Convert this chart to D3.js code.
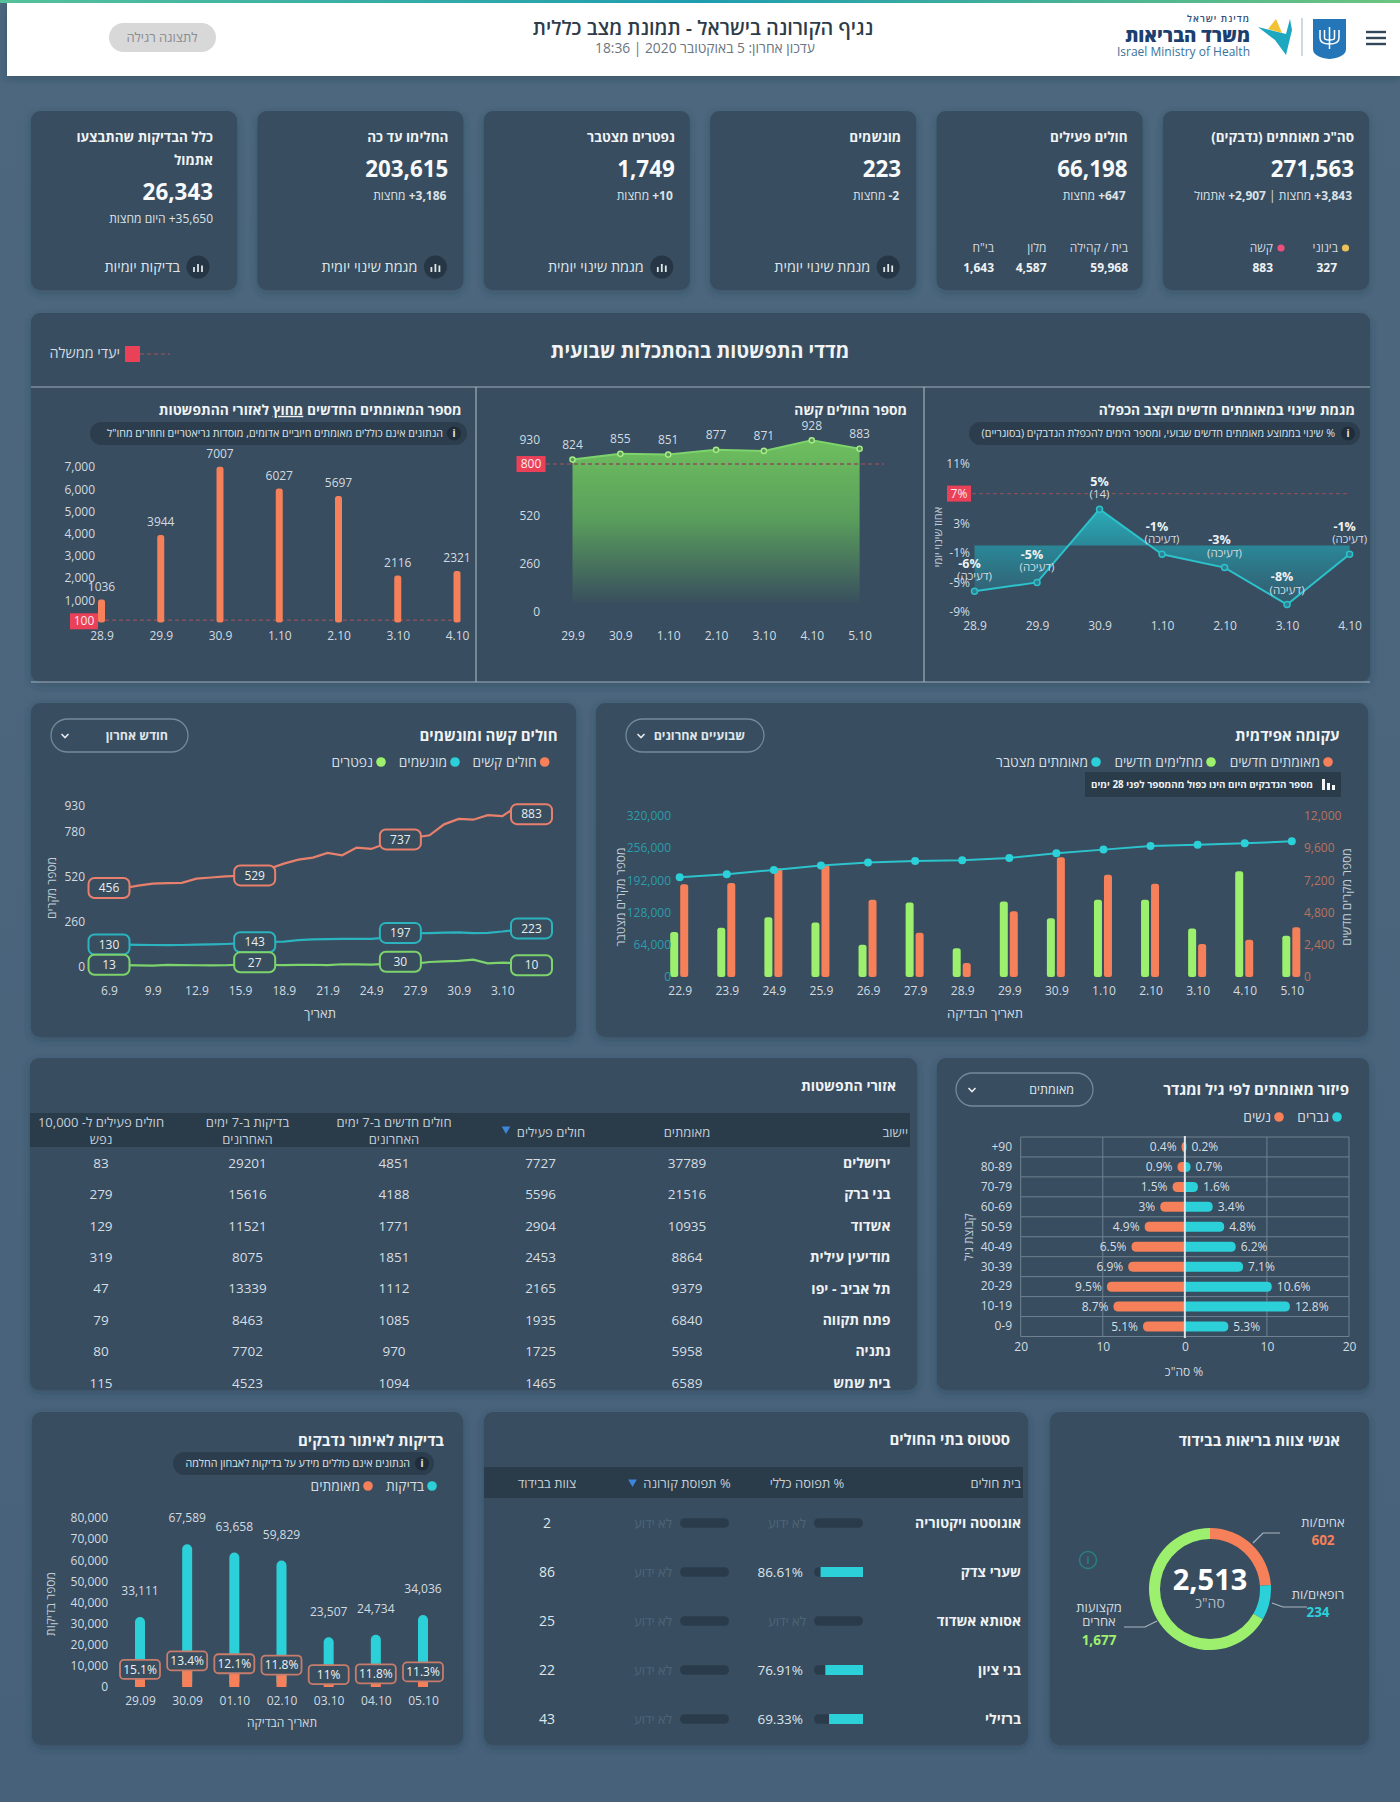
<!DOCTYPE html>
<html lang="he">
<head>
<meta charset="utf-8">
<title>נגיף הקורונה בישראל</title>
<script src="https://cdn.jsdelivr.net/npm/d3@7"></script>
<style>
  html, body { margin: 0; padding: 0; background: #4a647a; }
  svg { display: block; }
  text { font-family: "Open Sans", "Liberation Sans", "DejaVu Sans", sans-serif; }
  .axis path, .axis line { display: none; }
</style>
</head>
<body>
<div id="chart"></div>
<script>
// DATA
var kpiTitles = ['סה"כ מאומתים (נדבקים)', "חולים פעילים", "מונשמים", "נפטרים מצטבר", "החלימו עד כה", "כלל הבדיקות שהתבצעו"];
var kpiValues = ["271,563", "66,198", "223", "1,749", "203,615", "26,343"];
var kpiDeltas = ["\u200E+3,843\u200E מחצות | \u200E+2,907\u200E אתמול", "\u200E+647\u200E מחצות", "\u200E-2\u200E מחצות", "\u200E+10\u200E מחצות", "\u200E+3,186\u200E מחצות", "\u200E+35,650\u200E היום מחצות"];
var kpiLinks = [null, null, "מגמת שינוי יומית", "מגמת שינוי יומית", "מגמת שינוי יומית", "בדיקות יומיות"];
var activeLabels = ["בית / קהילה", "מלון", 'בי"ח'];
var activeValues = ["59,968", "4,587", "1,643"];

var weekDays = ["28.9", "29.9", "30.9", "1.10", "2.10", "3.10", "4.10"];
var changePct = [-6.2, -5, 4.9, -1.2, -3, -8, -1.2];
var changeLabels = ["-6%", "-5%", "5%", "-1%", "-3%", "-8%", "-1%"];
var changeNotes = ["(דעיכה)", "(דעיכה)", "(14)", "(דעיכה)", "(דעיכה)", "(דעיכה)", "(דעיכה)"];
var changeTicks = [-9, -5, -1, 3, 11];

var severeDays = ["29.9", "30.9", "1.10", "2.10", "3.10", "4.10", "5.10"];
var severeWeek = [824, 855, 851, 877, 871, 928, 883];
var severeTicks = [0, 260, 520, 930];

var outsideCases = [1036, 3944, 7007, 6027, 5697, 2116, 2321];
var outsideTicks = [1000, 2000, 3000, 4000, 5000, 6000, 7000];

var epiDays = ["22.9", "23.9", "24.9", "25.9", "26.9", "27.9", "28.9", "29.9", "30.9", "1.10", "2.10", "3.10", "4.10", "5.10"];
var epiNew = [6900, 7000, 8090, 8340, 5740, 3290, 1036, 4900, 8900, 7600, 6930, 2450, 2770, 3710];
var epiRecovered = [3340, 3660, 4450, 4060, 2400, 5540, 2130, 5620, 4380, 5740, 5740, 3610, 7870, 3070];
var epiCumulative = [197900, 203900, 212500, 221000, 227000, 230300, 231600, 236200, 245400, 252700, 260000, 262600, 265200, 269200];
var epiLeftTicks = [0, 64000, 128000, 192000, 256000, 320000];
var epiRightTicks = [0, 2400, 4800, 7200, 9600, 12000];

var monthDays = ["6.9", "7.9", "8.9", "9.9", "10.9", "11.9", "12.9", "13.9", "14.9", "15.9", "16.9", "17.9", "18.9", "19.9", "20.9", "21.9", "22.9", "23.9", "24.9", "25.9", "26.9", "27.9", "28.9", "29.9", "30.9", "1.10", "2.10", "3.10", "4.10", "5.10"];
var monthTickDays = ["6.9", "9.9", "12.9", "15.9", "18.9", "21.9", "24.9", "27.9", "30.9", "3.10"];
var monthSevere = [456, 455, 470, 482, 484, 486, 510, 517, 523, 527, 529, 568, 597, 620, 632, 659, 645, 690, 682, 713, 737, 748, 761, 824, 855, 851, 877, 871, 928, 883];
var monthVent = [130, 129, 128, 127, 126, 127, 129, 131, 133, 136, 143, 145, 147, 155, 160, 161, 162, 163, 163, 170, 197, 195, 196, 198, 200, 196, 197, 205, 215, 223];
var monthDead = [13, 11, 9, 8, 12, 11, 10, 9, 10, 14, 27, 12, 11, 12, 13, 11, 16, 15, 14, 18, 30, 19, 29, 33, 35, 42, 21, 25, 22, 10];
var monthTicks = [0, 260, 520, 780, 930];
var monthMarked = ["6.9", "16.9", "26.9", "5.10"];

var ageGroups = ["+90", "80-89", "70-79", "60-69", "50-59", "40-49", "30-39", "20-29", "10-19", "0-9"];
var agesWomen = [0.4, 0.9, 1.5, 3, 4.9, 6.5, 6.9, 9.5, 8.7, 5.1];
var agesMen = [0.2, 0.7, 1.6, 3.4, 4.8, 6.2, 7.1, 10.6, 12.8, 5.3];

var tableHeads = [["יישוב"], ["מאומתים"], ["חולים פעילים"], ["חולים חדשים ב-7 ימים", "האחרונים"], ["בדיקות ב-7 ימים", "האחרונים"], ["חולים פעילים ל- 10,000", "נפש"]];
var cities = ["ירושלים", "בני ברק", "אשדוד", "מודיעין עילית", "תל אביב - יפו", "פתח תקווה", "נתניה", "בית שמש"];
var cityConfirmed = [37789, 21516, 10935, 8864, 9379, 6840, 5958, 6589];
var cityActive = [7727, 5596, 2904, 2453, 2165, 1935, 1725, 1465];
var cityNew7 = [4851, 4188, 1771, 1851, 1112, 1085, 970, 1094];
var cityTests7 = [29201, 15616, 11521, 8075, 13339, 8463, 7702, 4523];
var cityPer10k = [83, 279, 129, 319, 47, 79, 80, 115];

var testDays = ["29.09", "30.09", "01.10", "02.10", "03.10", "04.10", "05.10"];
var testCounts = [33111, 67589, 63658, 59829, 23507, 24734, 34036];
var testPositive = [5000, 9057, 7702, 7060, 2586, 2919, 3846];
var testRates = ["15.1%", "13.4%", "12.1%", "11.8%", "11%", "11.8%", "11.3%"];
var testTicks = [0, 10000, 20000, 30000, 40000, 50000, 60000, 70000, 80000];

var hospitals = ["אוגוסטה ויקטוריה", "שערי צדק", "אסותא אשדוד", "בני ציון", "ברזילי"];
var hospOccupancy = [null, 86.61, null, 76.91, 69.33];
var hospCorona = [null, null, null, null, null];
var hospStaff = [2, 86, 25, 22, 43];
var hospHeads = ["בית חולים", "% תפוסה כללי", "% תפוסת קורונה", "צוות בבידוד"];

var staffGroups = ["אחים/ות", "רופאים/ות", "מקצועות אחרים"];
var staffCounts = [602, 234, 1677];

// STYLE
var panel = "#384d5e", dark = "#2a3b4a", soft = "#d3dbe1";
var orange = "#f58059", teal = "#2bd0d8", green = "#9cf06e", lineGreen = "#7dd36c", red = "#ea4159", dash = "#85505c";

var svg = d3.select("#chart").append("svg").attr("width", 1400).attr("height", 1802);
var defs = svg.append("defs");

var shadow = defs.append("filter").attr("id", "shadow").attr("x", "-5%").attr("y", "-5%").attr("width", "110%").attr("height", "115%");
shadow.append("feDropShadow").attr("dx", 0).attr("dy", 3).attr("stdDeviation", 4).attr("flood-color", "#22323f").attr("flood-opacity", 0.35);

function gradient(id, stops, vertical, extra) {
  var g = defs.append("linearGradient").attr("id", id).attr("x1", 0).attr("y1", 0)
    .attr("x2", vertical ? 0 : 1).attr("y2", vertical ? 1 : 0);
  if (extra) g.attr("gradientUnits", "userSpaceOnUse").attr("y1", extra[0]).attr("y2", extra[1]);
  stops.forEach(function(s) {
    g.append("stop").attr("offset", s[0]).attr("stop-color", s[1]);
  });
}
gradient("topStrip", [[0, "#55c19a"], [0.5, "#1f9db0"], [1, "#6cc57f"]], false);
gradient("pageBg", [[0, "#4d687e"], [1, "#47617a"]], true);
gradient("severeFill", [[0, "#6dbd5e"], [0.45, "#5a9f5c"], [1, "#384d5e"]], true, [445, 605]);
gradient("changeFill", [[0, "#2bb0bb"], [0.42, "#2a8595"], [1, "#35566a"]], true, [505, 608]);

// helper for every piece of text: x,y is the point, y the vertical centre
function label(g, x, y, str, o) {
  o = o || {};
  var rtl = !o.ltr;
  var a = o.a || "r";
  var anchor = a === "m" ? "middle" : ((a === "r") === rtl ? "start" : "end");
  return g.append("text")
    .attr("x", x).attr("y", y).attr("dy", "0.35em")
    .attr("direction", rtl ? "rtl" : "ltr")
    .attr("text-anchor", anchor)
    .attr("font-size", o.size || 12)
    .attr("font-weight", o.bold ? (o.bold === true ? 700 : o.bold) : 400)
    .attr("fill", o.fill || soft)
    .text(str);
}
function sideLabel(g, x, y, str, o) {
  o = o || {};
  return g.append("text").attr("transform", "translate(" + x + "," + y + ") rotate(-90)")
    .attr("text-anchor", "middle").attr("dy", "0.35em")
    .attr("font-size", o.size || 12).attr("fill", o.fill || "#c3ced6").text(str);
}
function card(x, y, w, h) {
  return svg.append("rect").attr("x", x).attr("y", y).attr("width", w).attr("height", h)
    .attr("rx", 9).attr("fill", panel).attr("filter", "url(#shadow)");
}
function chevron(g, x, y) {
  g.append("path").attr("d", "M" + (x - 3.5) + "," + (y - 1.5) + " L" + x + "," + (y + 2) + " L" + (x + 3.5) + "," + (y - 1.5))
    .attr("fill", "none").attr("stroke", "#e6ebef").attr("stroke-width", 1.6);
}
function dropdown(g, x0, x1, y0, y1, str, textRight, chevX, bold) {
  g.append("rect").attr("x", x0).attr("y", y0).attr("width", x1 - x0).attr("height", y1 - y0)
    .attr("rx", (y1 - y0) / 2).attr("fill", "none").attr("stroke", "#74899a").attr("stroke-width", 1.3);
  label(g, textRight, (y0 + y1) / 2, str, { size: 12.5, bold: bold ? 700 : 0, fill: "#dfe5ea" });
  chevron(g, chevX, (y0 + y1) / 2);
}
function legendItem(g, x, y, color, str, size) {
  g.append("circle").attr("cx", x).attr("cy", y).attr("r", 4.8).attr("fill", color);
  label(g, x - 8, y, str, { size: size || 13.8, fill: "#d6dee3" });
}
function infoPill(g, x0, x1, y0, y1, str, textRight, iconX) {
  g.append("rect").attr("x", x0).attr("y", y0).attr("width", x1 - x0).attr("height", y1 - y0)
    .attr("rx", (y1 - y0) / 2).attr("fill", "#2c3e4e");
  g.append("circle").attr("cx", iconX).attr("cy", (y0 + y1) / 2).attr("r", 7).attr("fill", "#1f2d3a");
  label(g, iconX, (y0 + y1) / 2, "i", { a: "m", size: 10, bold: true, fill: "#e8edf0", ltr: true });
  return label(g, textRight, (y0 + y1) / 2, str, { size: 10.7, fill: "#dde4e9" });
}
function styleAxis(sel, o) {
  o = o || {};
  sel.attr("class", "axis");
  sel.selectAll("text").attr("font-size", o.size || 12).attr("fill", o.fill || "#d3dbe1").attr("font-family", null);
  return sel;
}
function targetBadge(g, x0, x1, yc, str) {
  g.append("rect").attr("x", x0).attr("y", yc - 8).attr("width", x1 - x0).attr("height", 16).attr("fill", red);
  label(g, (x0 + x1) / 2, yc, str, { a: "m", size: 12, fill: "#fde9ec", ltr: true });
}
function dashLine(g, x0, x1, yv) {
  g.append("line").attr("x1", x0).attr("x2", x1).attr("y1", yv).attr("y2", yv)
    .attr("stroke", dash).attr("stroke-width", 1.4).attr("stroke-dasharray", "4,3");
}

// PAGE
svg.append("rect").attr("width", 1400).attr("height", 1802).attr("fill", "url(#pageBg)");

// HEADER
var head = svg.append("g");
head.append("rect").attr("x", 7).attr("y", 0).attr("width", 1393).attr("height", 76).attr("fill", "#ffffff").attr("filter", "url(#shadow)");
head.append("rect").attr("width", 1400).attr("height", 3).attr("fill", "url(#topStrip)");
label(head, 703, 28, "נגיף הקורונה בישראל - תמונת מצב כללית", { a: "m", size: 19.8, bold: 600, fill: "#2e3c4a" });
label(head, 705, 48, "עדכון אחרון: 5 באוקטובר 2020 | 18:36", { a: "m", size: 13.8, fill: "#6b7580" });
head.append("rect").attr("x", 109).attr("y", 23).attr("width", 107).attr("height", 29).attr("rx", 14.5).attr("fill", "#d8d8d9");
label(head, 162, 37.5, "לתצוגה רגילה", { a: "m", size: 13, fill: "#8a8d90" });
[32, 38, 44].forEach(function(y) {
  head.append("rect").attr("x", 1366).attr("y", y - 1.2).attr("width", 20).attr("height", 2.4).attr("fill", "#33475a");
});
head.append("path").attr("d", "M1313,19 h33 v30 q0,8 -16.5,10 q-16.5,-2 -16.5,-10 z").attr("fill", "#2476b8");
head.append("path").attr("d", "M1320,30 v8 q0,6 9.5,6 q9.5,0 9.5,-6 v-8 M1329.5,27 v22 M1324.5,30 v8 q0,2 5,2 q5,0 5,-2 v-8").attr("fill", "none").attr("stroke", "#ffffff").attr("stroke-width", 1.5);
head.append("line").attr("x1", 1302).attr("x2", 1302).attr("y1", 18).attr("y2", 56).attr("stroke", "#9fb3c4");
head.append("path").attr("d", "M1258,27 L1286,34 L1290,19 L1292,30 L1286,55 L1275,40 Z").attr("fill", "#1da7c0");
head.append("path").attr("d", "M1268,29 L1276,19 L1282,33 Z").attr("fill", "#f1c232");
label(head, 1250, 35.5, "משרד הבריאות", { size: 18.8, bold: 800, fill: "#1c3f70" });
label(head, 1250, 19, "מדינת ישראל", { size: 9.5, bold: 600, fill: "#2b4c78" }).attr("letter-spacing", 1);
label(head, 1250, 52, "Israel Ministry of Health", { size: 12, fill: "#39729b", ltr: true });

// KPI CARDS
var kpiX = d3.scaleLinear().domain([0, 5]).range([1163, 31]);
kpiTitles.forEach(function(title, i) {
  var x0 = kpiX(i), right = x0 + 206, g = svg.append("g");
  card(x0, 111, 206, 179);
  g.raise();
  var pad = i === 5 ? 24 : 15, shift = i === 5 ? 23 : 0;
  label(g, right - pad, 137, title, { size: 13.5, bold: true, fill: "#f0f3f5" });
  if (i === 5) label(g, right - pad, 160, "אתמול", { size: 13.5, bold: true, fill: "#f0f3f5" });
  label(g, right - pad, 169 + shift, kpiValues[i], { size: 22.4, bold: true, fill: "#f7f9fa", ltr: true });
  var delta = label(g, right - pad - (i === 5 ? 0 : 2), 196 + shift, "", { size: 12, fill: "#dbe2e7" });
  kpiDeltas[i].split(/(\u200E[^\u200E]*\u200E)/).forEach(function(part) {
    delta.append("tspan").attr("font-weight", part.charAt(0) === "\u200E" && i !== 5 ? 700 : 400).text(part);
  });
  if (kpiLinks[i]) {
    var ix = i === 5 ? right - 39 : right - 28;
    g.append("circle").attr("cx", ix).attr("cy", 267).attr("r", 11.5).attr("fill", "#263644");
    [[-4, 3], [0, 6], [4, 4.5]].forEach(function(b) {
      g.append("rect").attr("x", ix + b[0] - 0.9).attr("y", 272 - b[1] - 2).attr("width", 1.8).attr("height", b[1] + 2).attr("fill", "#dfe6ea");
    });
    label(g, ix - 18, 267, kpiLinks[i], { size: 14.4, fill: "#dfe6ea" });
  }
});
// small breakdowns in the first two cards
var kpiExtra = svg.append("g");
kpiExtra.append("circle").attr("cx", 1345.5).attr("cy", 248).attr("r", 3.6).attr("fill", "#edc05a");
kpiExtra.append("circle").attr("cx", 1281).attr("cy", 248).attr("r", 3.6).attr("fill", "#ef4f7d");
label(kpiExtra, 1338, 248, "בינוני", { size: 12 });
label(kpiExtra, 1273, 248, "קשה", { size: 12 });
label(kpiExtra, 1337, 268, "327", { size: 12, bold: true, ltr: true, fill: "#eef2f4" });
label(kpiExtra, 1273, 268, "883", { size: 12, bold: true, ltr: true, fill: "#eef2f4" });
[1128, 1046.5, 994].forEach(function(x, i) {
  label(kpiExtra, x, 248, activeLabels[i], { size: 12 });
  label(kpiExtra, x, 268, activeValues[i], { size: 12, bold: true, ltr: true, fill: "#eef2f4" });
});

// WEEKLY PANEL
card(31, 313, 1339, 369);
var wk = svg.append("g");
label(wk, 700, 351, "מדדי התפשטות בהסתכלות שבועית", { a: "m", size: 19.7, bold: true, fill: "#f0f3f5" });
label(wk, 120, 353, "יעדי ממשלה", { size: 14.4, fill: "#d3dbe1" });
wk.append("rect").attr("x", 125).attr("y", 346).attr("width", 15).attr("height", 16).attr("fill", red);
dashLine(wk, 140, 170, 354);
[[31, 1370, 387, 387], [31, 1370, 682, 682], [476, 476, 387, 682], [924, 924, 387, 682]].forEach(function(l) {
  wk.append("line").attr("x1", l[0]).attr("x2", l[1]).attr("y1", l[2]).attr("y2", l[3]).attr("stroke", "#9fb0bd").attr("stroke-width", 1.2);
});

// -- change trend
var c1 = svg.append("g");
label(c1, 1355, 410, "מגמת שינוי במאומתים חדשים וקצב הכפלה", { size: 13.8, bold: true, fill: "#f0f3f5" });
infoPill(c1, 969, 1360, 422, 445, "% שינוי בממוצע מאומתים חדשים שבועי, ומספר הימים להכפלת הנדבקים (בסוגריים)", 1335, 1348);
var c1x = d3.scalePoint().domain(weekDays).range([974.5, 1349.6]);
var c1y = d3.scaleLinear().domain([-9, 11]).range([612, 464]);
c1.append("path").datum(changePct).attr("fill", "url(#changeFill)")
  .attr("d", d3.area().x(function(d, i) { return c1x(weekDays[i]); }).y0(c1y(0)).y1(function(d) { return c1y(d); }));
dashLine(c1, 972, 1350, c1y(7));
targetBadge(c1, 947, 971, c1y(7), "7%");
c1.append("path").datum(changePct).attr("fill", "none").attr("stroke", "#2cc2cc").attr("stroke-width", 2)
  .attr("d", d3.line().x(function(d, i) { return c1x(weekDays[i]); }).y(function(d) { return c1y(d); }));
c1.selectAll(".pt").data(changePct).enter().append("circle").attr("class", "pt")
  .attr("cx", function(d, i) { return c1x(weekDays[i]); }).attr("cy", function(d) { return c1y(d); })
  .attr("r", 3).attr("fill", "#2f7f90").attr("stroke", "#2cc2cc").attr("stroke-width", 1.5);
c1.append("g").attr("transform", "translate(970,0)")
  .call(d3.axisLeft(c1y).tickValues(changeTicks).tickSize(0).tickPadding(0).tickFormat(function(d) { return d + "%"; }))
  .call(styleAxis);
c1.append("g").attr("transform", "translate(0,617)")
  .call(d3.axisBottom(c1x).tickSize(0).tickPadding(4)).call(styleAxis);
sideLabel(c1, 938, 537, "אחוז שינוי יומי", { size: 11 });
changePct.forEach(function(v, i) {
  var px = c1x(weekDays[i]), py = c1y(v);
  label(c1, px - (v < 0 ? 5 : 0), py - 28, changeLabels[i], { a: "m", size: 12.5, bold: true, ltr: true, fill: "#eef2f4" });
  label(c1, px, py - 15, changeNotes[i], { a: "m", size: 11.5, fill: "#d3dbe1" });
});

// -- severe patients
var c2 = svg.append("g");
label(c2, 907, 410, "מספר החולים קשה", { size: 13.8, bold: true, fill: "#f0f3f5" });
var c2x = d3.scalePoint().domain(severeDays).range([572.5, 859.6]);
var c2y = d3.scaleLinear().domain([0, 930]).range([612, 440]);
c2.append("path").datum(severeWeek).attr("fill", "url(#severeFill)")
  .attr("d", d3.area().x(function(d, i) { return c2x(severeDays[i]); }).y0(605).y1(function(d) { return c2y(d); }));
dashLine(c2, 546, 884, c2y(800));
targetBadge(c2, 516.5, 545.6, c2y(800), "800");
c2.append("path").datum(severeWeek).attr("fill", "none").attr("stroke", lineGreen).attr("stroke-width", 2)
  .attr("d", d3.line().x(function(d, i) { return c2x(severeDays[i]); }).y(function(d) { return c2y(d); }));
c2.selectAll(".pt").data(severeWeek).enter().append("circle").attr("class", "pt")
  .attr("cx", function(d, i) { return c2x(severeDays[i]); }).attr("cy", function(d) { return c2y(d); })
  .attr("r", 2.6).attr("fill", "#5c9a55").attr("stroke", "#a8ee8a").attr("stroke-width", 1.4);
severeWeek.forEach(function(v, i) {
  label(c2, c2x(severeDays[i]), c2y(v) - 15, v, { a: "m", size: 12, ltr: true });
});
c2.append("g").attr("transform", "translate(540,0)")
  .call(d3.axisLeft(c2y).tickValues(severeTicks).tickSize(0).tickPadding(0)).call(styleAxis);
c2.append("g").attr("transform", "translate(0,627)")
  .call(d3.axisBottom(c2x).tickSize(0).tickPadding(4)).call(styleAxis);

// -- cases outside the outbreak zones
var c3 = svg.append("g");
var c3title = label(c3, 461.5, 410, "", { size: 13.8, bold: true, fill: "#f0f3f5" });
c3title.append("tspan").text("מספר המאומתים החדשים ");
c3title.append("tspan").attr("text-decoration", "underline").text("מחוץ");
c3title.append("tspan").text(" לאזורי ההתפשטות");
infoPill(c3, 90, 467, 422, 445, 'הנתונים אינם כוללים מאומתים חיוביים אדומים, מוסדות גריאטריים וחוזרים מחו"ל', 443, 454);
var c3x = d3.scalePoint().domain(weekDays).range([101.5, 457]);
var c3y = d3.scaleLinear().domain([0, 7000]).range([622.5, 467]);
dashLine(c3, 98, 457, c3y(100));
targetBadge(c3, 70, 98, c3y(100) + 1, "100");
c3.selectAll(".bar").data(outsideCases).enter().append("rect").attr("class", "bar")
  .attr("x", function(d, i) { return c3x(weekDays[i]) - 3.5; }).attr("width", 7)
  .attr("y", function(d) { return c3y(d); }).attr("height", function(d) { return c3y(0) - c3y(d); })
  .attr("rx", 2.5).attr("fill", orange);
outsideCases.forEach(function(v, i) {
  label(c3, c3x(weekDays[i]), c3y(v) - 13, v, { a: "m", size: 12, ltr: true });
});
c3.append("g").attr("transform", "translate(95,0)")
  .call(d3.axisLeft(c3y).tickValues(outsideTicks).tickSize(0).tickPadding(0).tickFormat(d3.format(","))).call(styleAxis);
c3.append("g").attr("transform", "translate(0,627)")
  .call(d3.axisBottom(c3x).tickSize(0).tickPadding(4)).call(styleAxis);

// EPIDEMIC CURVE
card(596, 703, 772, 334);
var ep = svg.append("g");
label(ep, 1339.5, 736, "עקומה אפידמית", { size: 15, bold: true, fill: "#f0f3f5" });
dropdown(ep, 626, 764, 719, 752, "שבועיים אחרונים", 745, 641, true);
legendItem(ep, 1328, 762, orange, "מאומתים חדשים");
legendItem(ep, 1211, 762, green, "מחלימים חדשים");
legendItem(ep, 1096, 762, teal, "מאומתים מצטבר");
ep.append("rect").attr("x", 1085).attr("y", 772).attr("width", 256).attr("height", 25).attr("fill", "#2a3b4a");
[[1322, 11], [1327, 7], [1332, 5]].forEach(function(b) {
  ep.append("rect").attr("x", b[0]).attr("y", 790 - b[1]).attr("width", 3).attr("height", b[1]).attr("fill", "#f2f4f6");
});
label(ep, 1313, 784.5, "מספר הנדבקים היום הינו כפול מהמספר לפני 28 ימים", { size: 9.8, bold: true, fill: "#eef2f4" });
var epx = d3.scalePoint().domain(epiDays).range([679.7, 1291.8]);
var epR = d3.scaleLinear().domain([0, 12000]).range([977, 815.7]);
var epL = d3.scaleLinear().domain([0, 320000]).range([977, 815.7]);
ep.selectAll(".rec").data(epiRecovered).enter().append("rect").attr("class", "rec")
  .attr("x", function(d, i) { return epx(epiDays[i]) - 9.5; }).attr("width", 8)
  .attr("y", function(d) { return epR(d); }).attr("height", function(d) { return epR(0) - epR(d); })
  .attr("rx", 2.5).attr("fill", green);
ep.selectAll(".new").data(epiNew).enter().append("rect").attr("class", "new")
  .attr("x", function(d, i) { return epx(epiDays[i]) + 0.5; }).attr("width", 8)
  .attr("y", function(d) { return epR(d); }).attr("height", function(d) { return epR(0) - epR(d); })
  .attr("rx", 2.5).attr("fill", orange);
ep.append("path").datum(epiCumulative).attr("fill", "none").attr("stroke", "#2cc3cc").attr("stroke-width", 2)
  .attr("d", d3.line().x(function(d, i) { return epx(epiDays[i]); }).y(function(d) { return epL(d); }));
ep.selectAll(".pt").data(epiCumulative).enter().append("circle").attr("class", "pt")
  .attr("cx", function(d, i) { return epx(epiDays[i]); }).attr("cy", function(d) { return epL(d); })
  .attr("r", 4).attr("fill", teal);
ep.append("g").attr("transform", "translate(671,0)")
  .call(d3.axisLeft(epL).tickValues(epiLeftTicks).tickSize(0).tickPadding(0).tickFormat(d3.format(",")))
  .call(styleAxis, { fill: "#2d9cab" });
ep.append("g").attr("transform", "translate(1304,0)")
  .call(d3.axisRight(epR).tickValues(epiRightTicks).tickSize(0).tickPadding(0).tickFormat(d3.format(",")))
  .call(styleAxis, { fill: "#b87360" });
ep.append("g").attr("transform", "translate(0,982)")
  .call(d3.axisBottom(epx).tickSize(0).tickPadding(4)).call(styleAxis);
sideLabel(ep, 621, 897, "מספר מקרים מצטבר");
sideLabel(ep, 1347, 897, "מספר מקרים חדשים");
label(ep, 985, 1013, "תאריך הבדיקה", { a: "m", size: 13 });

// SEVERE AND VENTILATED
card(31, 703, 545, 334);
var mo = svg.append("g");
label(mo, 557.5, 736, "חולים קשה ומונשמים", { size: 15, bold: true, fill: "#f0f3f5" });
dropdown(mo, 51, 188, 719, 752, "חודש אחרון", 168, 65, true);
legendItem(mo, 544.7, 762, orange, "חולים קשים");
legendItem(mo, 455, 762, teal, "מונשמים");
legendItem(mo, 381, 762, green, "נפטרים");
var mox = d3.scalePoint().domain(monthDays).range([109, 531.5]);
var moy = d3.scaleLinear().domain([0, 930]).range([967, 806]);
[[monthSevere, "#e8806d"], [monthVent, "#2bb3c0"], [monthDead, lineGreen]].forEach(function(s) {
  mo.append("path").datum(s[0]).attr("fill", "none").attr("stroke", s[1]).attr("stroke-width", 2.2)
    .attr("d", d3.line().x(function(d, i) { return mox(monthDays[i]); }).y(function(d) { return moy(d); }));
  monthMarked.forEach(function(day) {
    var v = s[0][monthDays.indexOf(day)];
    mo.append("rect").attr("x", mox(day) - 20.5).attr("y", moy(v) - 10).attr("width", 41).attr("height", 20)
      .attr("rx", 6).attr("fill", panel).attr("stroke", s[1]).attr("stroke-width", 2);
    label(mo, mox(day), moy(v), v, { a: "m", size: 12, ltr: true, fill: "#e8edf0" });
  });
});
mo.append("g").attr("transform", "translate(85,0)")
  .call(d3.axisLeft(moy).tickValues(monthTicks).tickSize(0).tickPadding(0)).call(styleAxis);
mo.append("g").attr("transform", "translate(0,982)")
  .call(d3.axisBottom(mox).tickValues(monthTickDays).tickSize(0).tickPadding(4)).call(styleAxis);
sideLabel(mo, 52, 888, "מספר מקרים");
label(mo, 320, 1013, "תאריך", { a: "m", size: 13 });

// AGE PYRAMID
card(937, 1058, 432, 332);
var py = svg.append("g");
label(py, 1349, 1090, "פיזור מאומתים לפי גיל ומגדר", { size: 15, bold: true, fill: "#f0f3f5" });
dropdown(py, 956, 1093, 1073, 1106, "מאומתים", 1074, 972, false);
legendItem(py, 1337, 1117, teal, "גברים");
legendItem(py, 1279, 1117, orange, "נשים");
var pyx = d3.scaleLinear().domain([-20, 20]).range([1020.7, 1349]);
var pyy = d3.scaleBand().domain(ageGroups).range([1137, 1336.5]);
var gridColor = "#6f8291";
pyx.ticks(4).forEach(function(t) {
  py.append("line").attr("x1", pyx(t)).attr("x2", pyx(t)).attr("y1", 1137).attr("y2", 1336.5).attr("stroke", gridColor).attr("stroke-width", 1);
});
ageGroups.concat(["end"]).forEach(function(a, i) {
  var y = 1137 + i * pyy.bandwidth();
  py.append("line").attr("x1", 1020.7).attr("x2", 1349).attr("y1", y).attr("y2", y).attr("stroke", gridColor).attr("stroke-width", 1);
});
function oneEndRounded(x0, x1, yc, h, r) {
  var s = x1 > x0 ? 1 : -1, p = d3.path(), rr = Math.min(r, Math.abs(x1 - x0));
  p.moveTo(x0, yc - h / 2);
  p.lineTo(x1 - s * rr, yc - h / 2);
  p.quadraticCurveTo(x1, yc - h / 2, x1, yc);
  p.quadraticCurveTo(x1, yc + h / 2, x1 - s * rr, yc + h / 2);
  p.lineTo(x0, yc + h / 2);
  p.closePath();
  return p.toString();
}
function ageBars(values, sign, color) {
  values.forEach(function(v, i) {
    var yc = pyy(ageGroups[i]) + pyy.bandwidth() / 2;
    py.append("path").attr("d", oneEndRounded(pyx(0), pyx(sign * v), yc, 10, 5)).attr("fill", color);
    label(py, pyx(sign * v) + sign * 5, yc, v + "%", { a: sign < 0 ? "r" : "l", size: 12, ltr: true, fill: "#d6dee3" });
  });
}
ageBars(agesWomen, -1, orange);
ageBars(agesMen, 1, teal);
py.append("line").attr("x1", pyx(0)).attr("x2", pyx(0)).attr("y1", 1136).attr("y2", 1338).attr("stroke", "#dfe5e9").attr("stroke-width", 2);
py.append("g").attr("transform", "translate(1012,0)")
  .call(d3.axisLeft(pyy).tickSize(0).tickPadding(0)).call(styleAxis);
py.append("g").attr("transform", "translate(0,1337)")
  .call(d3.axisBottom(pyx).ticks(4).tickSize(0).tickPadding(5).tickFormat(function(d) { return Math.abs(d); })).call(styleAxis);
label(py, 1184, 1372, '% סה"כ', { a: "m", size: 12 });
sideLabel(py, 969, 1237, "קבוצת גיל");

// OUTBREAK ZONES TABLE
card(30, 1058, 887, 332);
var tb = svg.append("g");
label(tb, 896, 1086, "אזורי התפשטות", { size: 14, bold: true, fill: "#f0f3f5" });
tb.append("rect").attr("x", 30).attr("y", 1113).attr("width", 880).attr("height", 34).attr("fill", dark);
var colX = [908, 687, 540.6, 394, 247.5, 101];
var headX = [908, 687, 551, 394, 247.5, 101];
tableHeads.forEach(function(lines, c) {
  lines.forEach(function(line, n) {
    var yc = lines.length === 1 ? 1132 : 1122 + n * 17.5;
    label(tb, headX[c], yc, line, { a: c === 0 ? "r" : "m", size: 13, fill: "#c4cfd7" });
  });
});
tb.append("path").attr("d", d3.symbol(d3.symbolTriangle, 32)).attr("transform", "translate(506,1129) rotate(180)").attr("fill", "#3c86dc");
var rowY = d3.scalePoint().domain(cities).range([1163, 1383]);
var cityColumns = [cityConfirmed, cityActive, cityNew7, cityTests7, cityPer10k];
cities.forEach(function(city, r) {
  label(tb, 890.5, rowY(city), city, { size: 14, bold: true, fill: "#eef2f4" });
  cityColumns.forEach(function(col, c) {
    label(tb, colX[c + 1], rowY(city), col[r], { a: "m", size: 13.5, ltr: true, fill: "#d6dee3" });
  });
});

// TESTS
card(32, 1412, 431, 333);
var ts = svg.append("g");
label(ts, 444, 1441, "בדיקות לאיתור נדבקים", { size: 15, bold: true, fill: "#f0f3f5" });
infoPill(ts, 173, 434, 1452, 1475, "הנתונים אינם כוללים מידע על בדיקות לאבחון החלמה", 410, 422);
legendItem(ts, 432, 1486, teal, "בדיקות");
legendItem(ts, 368, 1486, orange, "מאומתים");
var tsx = d3.scalePoint().domain(testDays).range([140, 423]);
var tsy = d3.scaleLinear().domain([0, 80000]).range([1687, 1518]);
ts.selectAll(".test").data(testCounts).enter().append("rect").attr("class", "test")
  .attr("x", function(d, i) { return tsx(testDays[i]) - 5; }).attr("width", 10)
  .attr("y", function(d) { return tsy(d); }).attr("height", function(d) { return tsy(0) - tsy(d); })
  .attr("rx", 5).attr("fill", teal);
ts.selectAll(".pos").data(testPositive).enter().append("rect").attr("class", "pos")
  .attr("x", function(d, i) { return tsx(testDays[i]) - 5; }).attr("width", 10)
  .attr("y", function(d) { return tsy(d); }).attr("height", function(d) { return tsy(0) - tsy(d); })
  .attr("fill", orange);
testCounts.forEach(function(v, i) {
  label(ts, tsx(testDays[i]), tsy(v) - 26, d3.format(",")(v), { a: "m", size: 12, ltr: true });
  var yc = tsy(testPositive[i]) - 7;
  ts.append("rect").attr("x", tsx(testDays[i]) - 20).attr("y", yc - 9.5).attr("width", 40).attr("height", 19)
    .attr("rx", 4).attr("fill", panel).attr("stroke", "#c77c6c").attr("stroke-width", 1.8);
  label(ts, tsx(testDays[i]), yc, testRates[i], { a: "m", size: 12, ltr: true, fill: "#eef2f4" });
});
ts.append("g").attr("transform", "translate(108,0)")
  .call(d3.axisLeft(tsy).tickValues(testTicks).tickSize(0).tickPadding(0).tickFormat(d3.format(","))).call(styleAxis);
ts.append("g").attr("transform", "translate(0,1692)")
  .call(d3.axisBottom(tsx).tickSize(0).tickPadding(4)).call(styleAxis);
sideLabel(ts, 51, 1604, "מספר בדיקות");
label(ts, 282, 1723, "תאריך הבדיקה", { a: "m", size: 12 });

// HOSPITALS
card(484, 1412, 544, 333);
var hs = svg.append("g");
label(hs, 1010, 1440, "סטטוס בתי החולים", { size: 15, bold: true, fill: "#f0f3f5" });
hs.append("rect").attr("x", 484).attr("y", 1467).attr("width", 539).attr("height", 31).attr("fill", dark);
label(hs, 1021, 1483, hospHeads[0], { size: 13, fill: "#c4cfd7" });
label(hs, 807, 1483, hospHeads[1], { a: "m", size: 13, fill: "#c4cfd7" });
label(hs, 687, 1483, hospHeads[2], { a: "m", size: 13, fill: "#c4cfd7" });
label(hs, 547, 1483, hospHeads[3], { a: "m", size: 13, fill: "#c4cfd7" });
hs.append("path").attr("d", d3.symbol(d3.symbolTriangle, 32)).attr("transform", "translate(632.5,1482) rotate(180)").attr("fill", "#3c86dc");
var hsy = d3.scalePoint().domain(hospitals).range([1523, 1719]);
var occW = d3.scaleLinear().domain([0, 100]).range([0, 49]);
function occupancyCell(value, barRight, textRight, yc) {
  hs.append("rect").attr("x", barRight - occW(100)).attr("y", yc - 4.8).attr("width", occW(100)).attr("height", 9.6).attr("rx", 4.8).attr("fill", "#2a3c4c");
  if (value === null) {
    label(hs, barRight - occW(100) - 8, yc, "לא ידוע", { size: 13, fill: "#4e6577" });
  } else {
    hs.append("rect").attr("x", barRight - occW(value)).attr("y", yc - 5).attr("width", occW(value)).attr("height", 10).attr("fill", teal);
    label(hs, textRight, yc, value + "%", { a: "r", size: 13.5, ltr: true, fill: "#dfe5ea" });
  }
}
hospitals.forEach(function(name, r) {
  var yc = hsy(name);
  label(hs, 1021, yc, name, { size: 14, bold: true, fill: "#eef2f4" });
  occupancyCell(hospOccupancy[r], 863, 803, yc);
  occupancyCell(hospCorona[r], 729, 660, yc);
  label(hs, 547, yc, hospStaff[r], { a: "m", size: 14, ltr: true, fill: "#dfe5ea" });
});

// STAFF IN ISOLATION
card(1050, 1412, 319, 333);
var dn = svg.append("g");
label(dn, 1340, 1441, "אנשי צוות בריאות בבידוד", { size: 15, bold: true, fill: "#f0f3f5" });
var ring = dn.append("g").attr("transform", "translate(1210,1589)");
var pie = d3.pie().sort(null)(staffCounts);
var arc = d3.arc().innerRadius(50).outerRadius(61);
var staffColors = [orange, teal, green];
ring.selectAll("path").data(pie).enter().append("path").attr("d", arc).attr("fill", function(d, i) { return staffColors[i]; });
label(ring, 0, -9, d3.format(",")(d3.sum(staffCounts)), { a: "m", size: 29, bold: true, ltr: true, fill: "#ffffff" });
label(ring, 0, 14, 'סה"כ', { a: "m", size: 14, fill: "#aebbc5" });
["M1253,1543 L1263,1533 L1280,1533", "M1272,1603 L1283,1607 L1307,1607", "M1157,1621 L1145,1627 L1124,1627"].forEach(function(p) {
  dn.append("path").attr("d", p).attr("fill", "none").attr("stroke", "#a9b6c0").attr("stroke-width", 1.2);
});
label(dn, 1323, 1522, staffGroups[0], { a: "m", size: 13 });
label(dn, 1323, 1540, staffCounts[0], { a: "m", size: 13.5, bold: true, ltr: true, fill: orange });
label(dn, 1318, 1594, staffGroups[1], { a: "m", size: 13 });
label(dn, 1318, 1612, staffCounts[1], { a: "m", size: 13.5, bold: true, ltr: true, fill: teal });
label(dn, 1099, 1607, "מקצועות", { a: "m", size: 13 });
label(dn, 1099, 1621, "אחרים", { a: "m", size: 13 });
label(dn, 1099, 1640, d3.format(",")(staffCounts[2]), { a: "m", size: 13.5, bold: true, ltr: true, fill: green });
dn.append("circle").attr("cx", 1088).attr("cy", 1560).attr("r", 8.5).attr("fill", "none").attr("stroke", "#2a7f80").attr("stroke-width", 1.5);
label(dn, 1088, 1560, "i", { a: "m", size: 10, bold: true, ltr: true, fill: "#2a7f80" });
</script>
</body>
</html>
